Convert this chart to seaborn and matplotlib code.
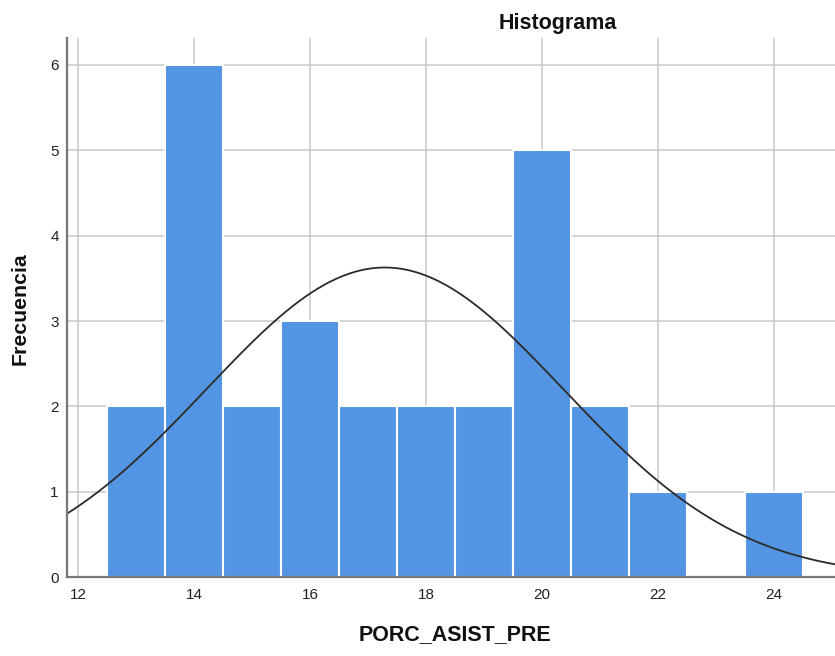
import numpy as np
import pandas as pd
import matplotlib
matplotlib.use("Agg")
import matplotlib.pyplot as plt
import seaborn as sns

# Frequency table for PORC_ASIST_PRE (bins of width 1)
valores = [13, 14, 15, 16, 17, 18, 19, 20, 21, 22, 23, 24]
frecuencias = [2, 6, 2, 3, 2, 2, 2, 5, 2, 1, 0, 1]

# Fitted normal curve parameters
media = 17.29
desv_tip = 3.08
n_total = 28
ancho_bin = 1.0

x_ticks = [12, 14, 16, 18, 20, 22, 24]
y_ticks = [0, 1, 2, 3, 4, 5, 6]

sns.set_theme(style="white")
plt.rcParams["font.family"] = ["Liberation Sans", "DejaVu Sans"]

fig = plt.figure(figsize=(8.35, 6.56), dpi=100)
ax = fig.add_axes([67 / 835, 1 - 577.3 / 656, 1 - 67 / 835, (577.3 - 38.3) / 656])

# One row per observation, rebuilt from the frequency table
df = pd.DataFrame({"PORC_ASIST_PRE": np.repeat(valores, frecuencias)})
bins = np.arange(12.5, 25.0, 1.0)
sns.histplot(data=df, x="PORC_ASIST_PRE", bins=bins, ax=ax,
             color="#5394e3", alpha=1.0, edgecolor="white", linewidth=1.5,
             zorder=3)

# Normal density scaled to counts
xs = np.linspace(11.5, 25.5, 400)
ys = n_total * ancho_bin / (desv_tip * np.sqrt(2 * np.pi)) * np.exp(-0.5 * ((xs - media) / desv_tip) ** 2)
sns.lineplot(x=xs, y=ys, ax=ax, color="#2b2b2b", linewidth=1.3, zorder=4)

ax.set_xlim(11.81, 25.05)
ax.set_ylim(0, 6.31)
ax.set_xticks(x_ticks)
ax.set_yticks(y_ticks)
ax.grid(True, color="#c9c9c9", linewidth=1.1, zorder=0)
ax.set_axisbelow(True)

for side in ["top", "right"]:
    ax.spines[side].set_visible(False)
for side in ["left", "bottom"]:
    ax.spines[side].set_color("#777777")
    ax.spines[side].set_linewidth(1.6)
    ax.spines[side].set_zorder(5)

ax.tick_params(axis="both", length=0, labelsize=11, colors="#222222")
ax.tick_params(axis="x", pad=8)
ax.tick_params(axis="y", pad=6)

ax.set_xlabel("")
ax.set_ylabel("")
fig.text(455 / 835, 1 - 635 / 656, "PORC_ASIST_PRE", ha="center", va="center",
         fontsize=15.5, fontweight="bold", color="#111111")
fig.text(20 / 835, 1 - 309 / 656, "Frecuencia", ha="center", va="center",
         rotation=90, fontsize=15.3, fontweight="bold", color="#111111")
fig.text(558 / 835, 1 - 23 / 656, "Histograma", ha="center", va="center",
         fontsize=15.5, fontweight="bold", color="#111111")

fig.savefig("out.png", dpi=100, facecolor="white")
